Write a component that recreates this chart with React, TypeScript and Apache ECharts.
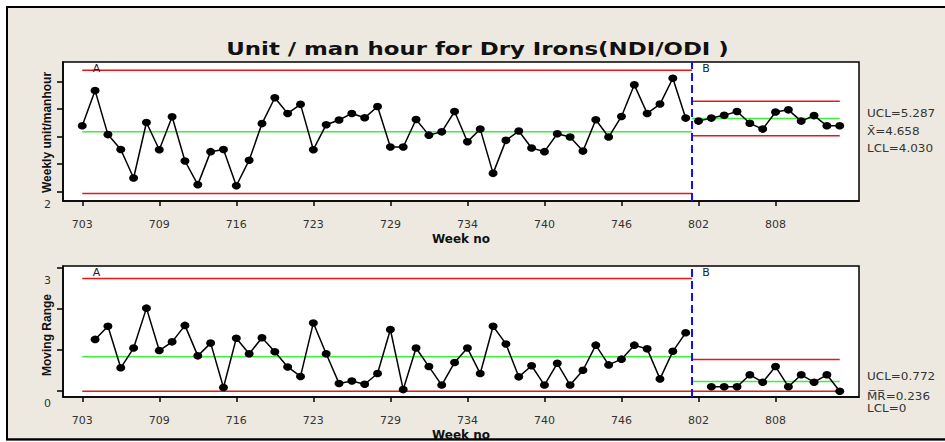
import React, { useEffect, useRef } from 'react';
import * as echarts from 'echarts';

// ---- data ----
const tickLabels = ['703', '709', '716', '723', '729', '734', '740', '746', '802', '808'];
const tickStep = 6;

// Individual values, stage A (weeks 703..) and stage B (weeks 802..)
const valuesA = [
  4.39, 5.67, 4.07, 3.53, 2.49, 4.51, 3.52, 4.72, 3.11, 2.25,
  3.45, 3.53, 2.21, 3.14, 4.47, 5.41, 4.84, 5.17, 3.52, 4.43,
  4.60, 4.84, 4.68, 5.09, 3.62, 3.62, 4.62, 4.05, 4.17, 4.91,
  3.81, 4.27, 2.66, 3.86, 4.20, 3.58, 3.45, 4.10, 3.98, 3.47,
  4.61, 3.98, 4.73, 5.88, 4.84, 5.18, 6.12, 4.67,
];
const valuesB = [4.56, 4.67, 4.77, 4.91, 4.48, 4.27, 4.89, 4.97, 4.56, 4.76, 4.39, 4.39];

// Moving ranges (first point of each stage has none)
const mrA = [
  1.26, 1.58, 0.57, 1.05, 2.02, 0.99, 1.20, 1.60, 0.86, 1.17,
  0.09, 1.29, 0.91, 1.30, 0.96, 0.59, 0.36, 1.66, 0.91, 0.19,
  0.25, 0.17, 0.43, 1.50, 0.04, 1.05, 0.60, 0.15, 0.70, 1.05,
  0.43, 1.58, 1.15, 0.35, 0.62, 0.15, 0.68, 0.15, 0.51, 1.12,
  0.64, 0.78, 1.12, 1.03, 0.30, 0.97, 1.42,
];
const mrB = [0.11, 0.11, 0.11, 0.40, 0.22, 0.60, 0.11, 0.40, 0.22, 0.40, 0.0];

const limitsIndA = { ucl: 6.41, cl: 4.17, lcl: 1.93 };
const limitsIndB = { ucl: 5.287, cl: 4.658, lcl: 4.030 };
const limitsMrA = { ucl: 2.74, cl: 0.84, lcl: 0 };
const limitsMrB = { ucl: 0.772, cl: 0.236, lcl: 0 };

const yTicksInd = [2, 3, 4, 5, 6];
const yLabelsInd = [2];
const yTicksMr = [0, 1, 2, 3];
const yLabelsMr = [0, 3];

const legendInd = ['UCL=5.287', 'X\u0304=4.658', 'LCL=4.030'];
const legendMr = ['UCL=0.772', 'M\u0305R\u0305=0.236', 'LCL=0'];

const RED = '#e81616';
const GREEN = '#3cf03c';
const BEIGE = '#ede9e0';
const FONT = 'DejaVu Sans';

export default function App() {
  const ref = useRef<HTMLDivElement>(null);

  useEffect(() => {
    if (!ref.current) return;
    const chart = echarts.init(ref.current, undefined, { renderer: 'svg' });

    const nA = valuesA.length;
    const nTotal = nA + valuesB.length;
    const boundary = nA - 0.5;
    const lastIdx = nTotal - 1;
    const tickPos = tickLabels.map((_, i) => i * tickStep);

    const xAxis = (gridIndex: number) => ({
      type: 'value',
      gridIndex,
      min: -1.5,
      max: nTotal + 0.5,
      axisLine: { show: true, onZero: false, lineStyle: { color: '#000', width: 1.5 } },
      axisTick: { show: true, customValues: tickPos, length: 5, lineStyle: { color: '#000', width: 1.5 } },
      axisLabel: {
        customValues: tickPos,
        formatter: (v: number) => tickLabels[Math.round(v / tickStep)] ?? '',
        color: '#333',
        fontSize: 11,
        fontFamily: FONT,
        margin: 18,
      },
      splitLine: { show: false },
      name: 'Week no',
      nameLocation: 'middle',
      nameGap: 32,
      nameTextStyle: { fontWeight: 'bold', fontSize: 12, fontFamily: FONT, color: '#111' },
    });

    const yAxis = (gridIndex: number, min: number, max: number, ticks: number[], labels: number[]) => ({
      type: 'value',
      gridIndex,
      min,
      max,
      axisLine: { show: true, onZero: false, lineStyle: { color: '#000', width: 1.5 } },
      axisTick: { show: true, customValues: ticks, length: 6, lineStyle: { color: '#000', width: 1.5 } },
      axisLabel: {
        customValues: labels,
        formatter: (v: number) => String(v),
        color: '#333',
        fontSize: 11,
        fontFamily: FONT,
        margin: 12,
        verticalAlign: 'top',
        padding: [7, 0, 0, 0],
      },
      splitLine: { show: false },
    });

    const limitLine = (axisIndex: number, x0: number, x1: number, value: number, color: string) => ({
      type: 'line',
      xAxisIndex: axisIndex,
      yAxisIndex: axisIndex,
      data: [[x0, value], [x1, value]],
      symbol: 'none',
      silent: true,
      lineStyle: { color, width: 1.5 },
      z: 2,
    });

    const divider = {
      silent: true,
      symbol: ['none', 'none'],
      label: { show: false },
      lineStyle: { color: '#1010ff', type: [8, 4], width: 2 },
      data: [{ xAxis: boundary }],
    };

    const pointSeries = (axisIndex: number, data: number[][], withDivider: boolean) => ({
      type: 'line',
      xAxisIndex: axisIndex,
      yAxisIndex: axisIndex,
      data,
      symbol: 'circle',
      symbolSize: [9, 7.5],
      showSymbol: true,
      itemStyle: { color: '#000' },
      lineStyle: { color: '#000', width: 1.5 },
      z: 5,
      markLine: withDivider ? divider : undefined,
    });

    const series: any[] = [];
    // Individuals chart
    for (const [lim, x0, x1] of [[limitsIndA, 0, boundary], [limitsIndB, boundary, lastIdx]] as any) {
      series.push(limitLine(0, x0, x1, lim.ucl, RED));
      series.push(limitLine(0, x0, x1, lim.cl, GREEN));
      series.push(limitLine(0, x0, x1, lim.lcl, RED));
    }
    series.push(pointSeries(0, valuesA.map((v, i) => [i, v]), true));
    series.push(pointSeries(0, valuesB.map((v, i) => [nA + i, v]), false));
    // Moving range chart
    for (const [lim, x0, x1] of [[limitsMrA, 0, boundary], [limitsMrB, boundary, lastIdx]] as any) {
      series.push(limitLine(1, x0, x1, lim.ucl, RED));
      series.push(limitLine(1, x0, x1, lim.cl, GREEN));
      series.push(limitLine(1, x0, x1, lim.lcl, RED));
    }
    series.push(pointSeries(1, mrA.map((v, i) => [i + 1, v]), true));
    series.push(pointSeries(1, mrB.map((v, i) => [nA + 1 + i, v]), false));

    const txt = (x: number, y: number, text: string, extra: any = {}, el: any = {}) => ({
      type: 'text',
      x,
      y,
      z: 50,
      ...el,
      style: {
        text,
        fill: '#333',
        fontSize: 11,
        fontFamily: FONT,
        align: 'left',
        verticalAlign: 'middle',
        ...extra,
      },
    });

    const yName = { fontWeight: 'bold', fontSize: 12, fontFamily: 'Liberation Sans', fill: '#111', align: 'center' };
    const legendStyle = { fontSize: 10 };

    const option: any = {
      animation: false,
      backgroundColor: '#fff',
      grid: [
        { left: 63, top: 62, width: 796, height: 139, show: true, backgroundColor: '#fff', borderColor: '#000', borderWidth: 1.5 },
        { left: 63, top: 266, width: 796, height: 136, show: true, backgroundColor: '#fff', borderColor: '#000', borderWidth: 1.5 },
      ],
      xAxis: [xAxis(0), xAxis(1)],
      yAxis: [
        yAxis(0, 1.655, 6.71, yTicksInd, yLabelsInd),
        yAxis(1, -0.14, 3.044, yTicksMr, yLabelsMr),
      ],
      series,
      graphic: [
        {
          type: 'rect',
          z: -100,
          shape: { x: 7, y: 7, width: 945, height: 432.5 },
          style: { fill: BEIGE, stroke: '#000', lineWidth: 2 },
        },
        txt(477.5, 49, 'Unit / man hour for Dry Irons(NDI/ODI )', {
          fill: '#111', fontSize: 17, fontWeight: 'bold', align: 'center',
        }, { scaleX: 1.345 }),
        txt(46.5, 132.5, 'Weekly unit/manhour', yName, { rotation: Math.PI / 2 }),
        txt(46.5, 335, 'Moving Range', yName, { rotation: Math.PI / 2 }),
        txt(96.5, 63, 'A', { align: 'center', verticalAlign: 'top', fill: '#222' }),
        txt(706, 63, 'B', { align: 'center', verticalAlign: 'top', fill: '#222' }),
        txt(96.5, 267, 'A', { align: 'center', verticalAlign: 'top', fill: '#222' }),
        txt(706, 267, 'B', { align: 'center', verticalAlign: 'top', fill: '#222' }),
        txt(867, 114, legendInd[0], legendStyle, { scaleX: 1.2 }),
        txt(867, 132, legendInd[1], legendStyle, { scaleX: 1.2 }),
        txt(867, 149, legendInd[2], legendStyle, { scaleX: 1.2 }),
        txt(867, 377, legendMr[0], legendStyle, { scaleX: 1.2 }),
        txt(867, 396.5, legendMr[1], legendStyle, { scaleX: 1.2 }),
        txt(867, 408.5, legendMr[2], legendStyle, { scaleX: 1.2 }),
        {
          type: 'rect',
          z: 100,
          shape: { x: 0, y: 440.5, width: 945, height: 2 },
          style: { fill: '#fff' },
        },
        {
          type: 'line',
          z: 101,
          shape: { x1: 6, y1: 439.5, x2: 945, y2: 439.5 },
          style: { stroke: '#000', lineWidth: 2 },
        },
      ],
    };

    chart.setOption(option);
    return () => chart.dispose();
  }, []);

  return <div ref={ref} style={{ position: 'absolute', left: 0, top: 0, width: 945, height: 442 }} />;
}
